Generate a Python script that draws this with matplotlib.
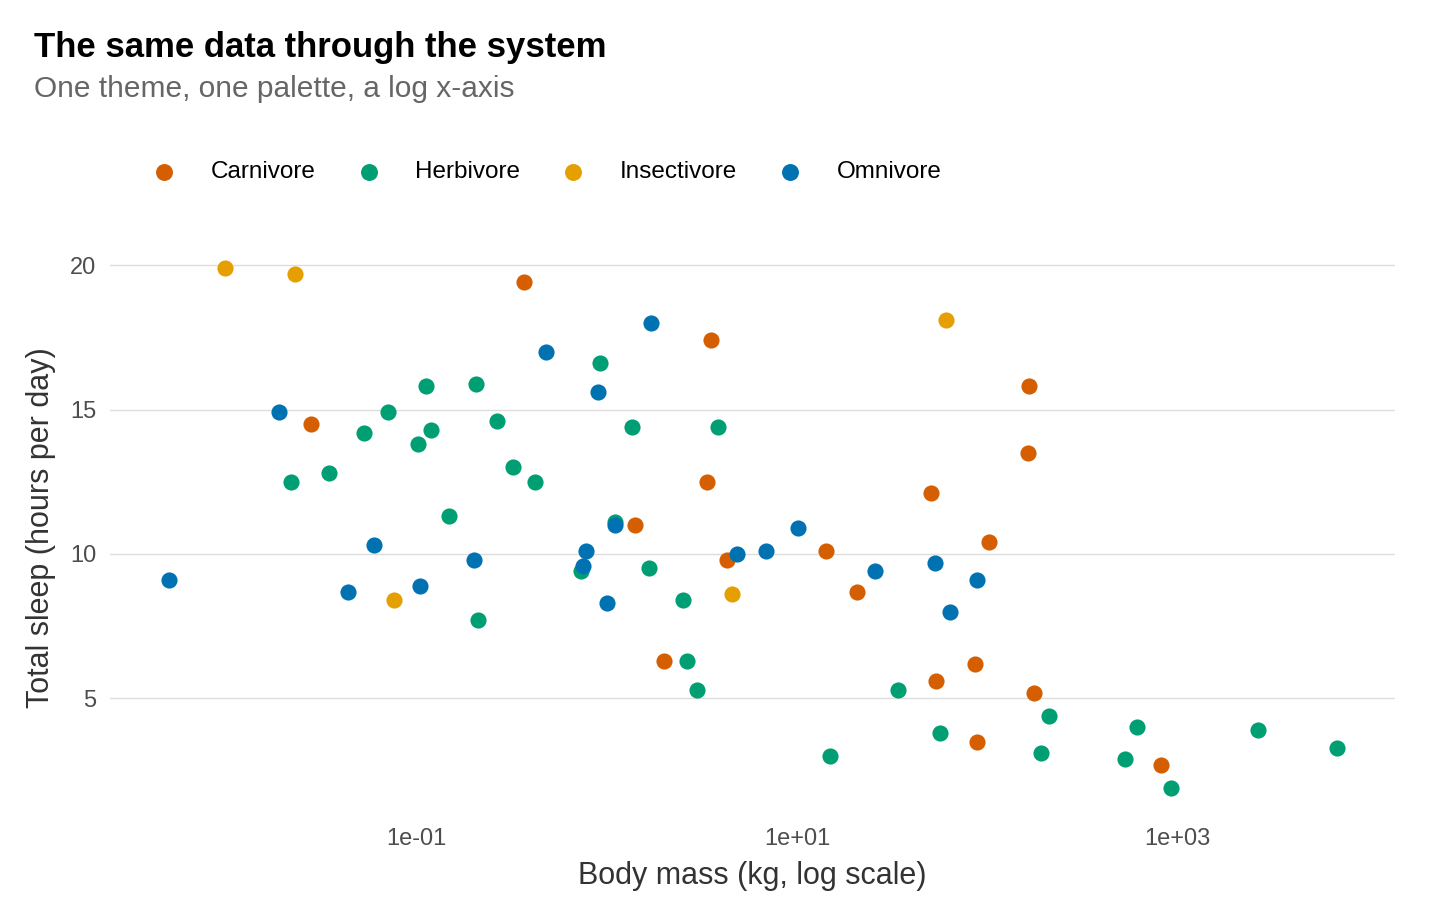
import matplotlib
matplotlib.use("Agg")
import matplotlib.pyplot as plt
import numpy as np

plt.rcParams['font.family'] = ['Arial', 'Liberation Sans', 'DejaVu Sans']

carni_mass = [0.028,0.37,3.54,3.37,1.41,4.3,2.0,14.2,20.6,50.5,53.7,86,88,102,165,163,177,815]
carni_sleep = [14.5,19.4,17.4,12.5,11.0,9.8,6.3,10.1,8.7,12.1,5.6,6.2,3.5,10.4,15.8,13.5,5.2,2.7]
herbi_mass = [0.022,0.035,0.053,0.071,0.113,0.102,0.12,0.149,0.206,0.211,0.266,0.323,0.42,0.73,0.92,1.11,1.36,1.67,2.52,2.65,2.99,3.85,14.9,33.9,56.4,191,210,527,610,919,2630,6840]
herbi_sleep = [12.5,12.8,14.2,14.9,15.8,13.8,14.3,11.3,15.9,7.7,14.6,13.0,12.5,9.4,16.6,11.1,14.4,9.5,8.4,6.3,5.3,14.4,3.0,5.3,3.8,3.1,4.4,2.9,4.0,1.9,3.9,3.3]
insecti_mass = [0.0099,0.023,0.076,4.56,60.5]
insecti_sleep = [19.9,19.7,8.4,8.6,18.1]
omni_mass = [0.005,0.019,0.044,0.060,0.105,0.20,0.48,1.71,0.90,0.78,0.75,1.0,1.11,4.84,6.9,10.1,25.6,53,63.5,88]
omni_sleep = [9.1,14.9,8.7,10.3,8.9,9.8,17.0,18.0,15.6,10.1,9.6,8.3,11.0,10.0,10.1,10.9,9.4,9.7,8.0,9.1]

groups = [("Carnivore", carni_mass, carni_sleep, "#D55E00"),
          ("Herbivore", herbi_mass, herbi_sleep, "#009E73"),
          ("Insectivore", insecti_mass, insecti_sleep, "#E69F00"),
          ("Omnivore", omni_mass, omni_sleep, "#0072B2")]

fig = plt.figure(figsize=(14.4, 9.19), dpi=100)
ax = fig.add_axes([110/1440, 1-814/919, (1395-110)/1440, (814-242)/919])
for name, m, s, c in groups:
    ax.scatter(m, s, s=135, color=c, label=name, linewidths=0, zorder=3)
ax.set_xscale('log')
ax.set_xlim(10**-2.609, 10**4.142)
ax.set_ylim(1.0, 20.8)
ax.set_xticks([0.1, 10, 1000])
ax.set_xticklabels(["1e-01", "1e+01", "1e+03"])
ax.xaxis.set_minor_locator(matplotlib.ticker.NullLocator())
ax.set_yticks([5, 10, 15, 20])
ax.grid(axis='y', color='#DDDDDD', linewidth=1)
ax.grid(axis='x', visible=False)
for sp in ax.spines.values():
    sp.set_visible(False)
ax.tick_params(length=0, labelsize=17, labelcolor='#4D4D4D', pad=10)
ax.set_xlabel("Body mass (kg, log scale)", fontsize=22, color='#333333', labelpad=8)
ax.set_ylabel("Total sleep (hours per day)", fontsize=22, color='#333333', labelpad=10)

fig.text(34/1440, 1-47/919, "The same data through the system", fontsize=25, fontweight='bold', va='center')
fig.text(34/1440, 1-89/919, "One theme, one palette, a log x-axis", fontsize=21.5, color='#666666', va='center')

leg = fig.legend(loc='center left', bbox_to_anchor=(118/1440, 1-172/919), ncol=4, frameon=False,
                 fontsize=17.5, handletextpad=0.9, columnspacing=1.2, markerscale=1.05)
fig.savefig("out.png", dpi=100, facecolor='white')
